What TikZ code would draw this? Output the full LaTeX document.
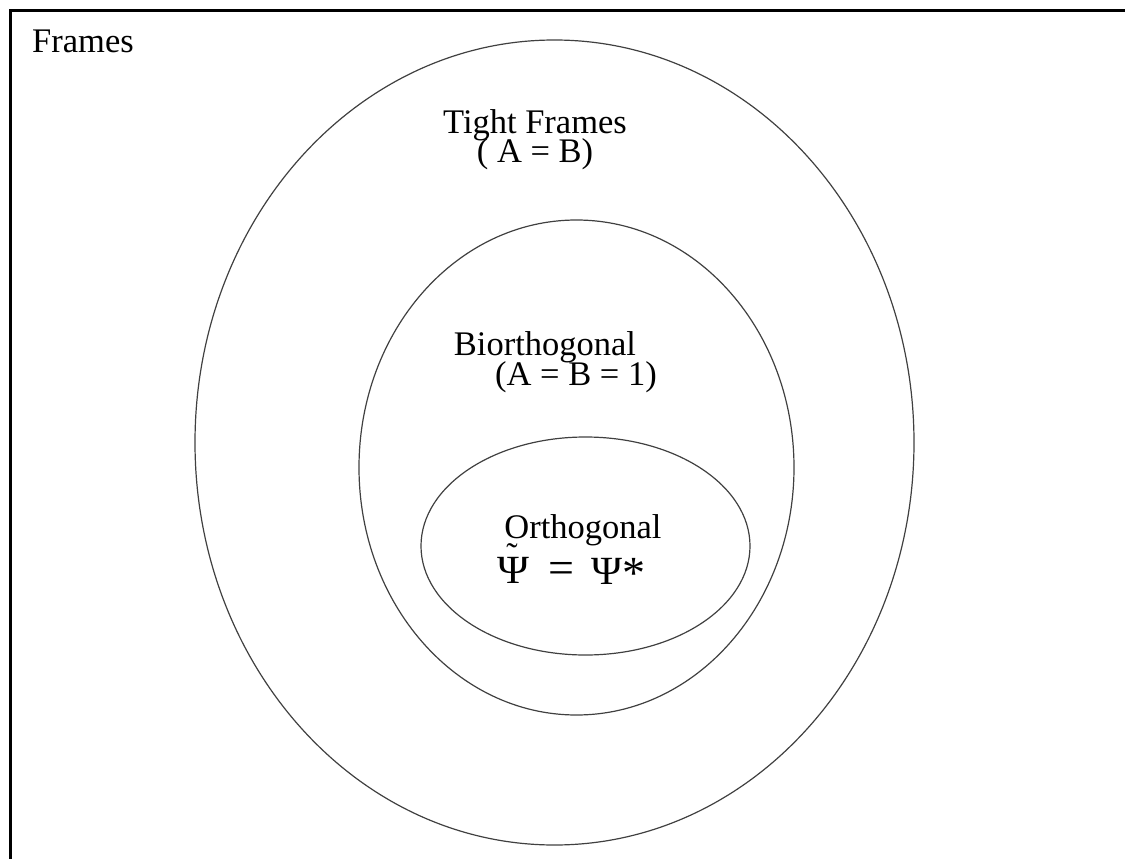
\documentclass[tikz,border=0pt]{standalone}
\usepackage{fontspec}
\setmainfont{Liberation Serif}
\begin{document}
\begin{tikzpicture}[x=1pt,y=-1pt,
  setline/.style={draw=black!75, line width=1.2pt},
  lbl/.style={inner sep=0pt, anchor=base, font=\fontsize{34.5}{34.5}\selectfont},
  sym/.style={inner sep=0pt, anchor=base west, font=\fontsize{40}{40}\selectfont}]
\useasboundingbox (0,0) rectangle (1125,859);
% frame border: top and left edges only
\draw[line width=3pt] (10.5,859) -- (10.5,10.5) -- (1125,10.5);
\node[lbl, anchor=base west] (frames) at (32,53) {Frames};
% nested sets
\draw[setline] (554.5,442.5) ellipse [x radius=359.5, y radius=402.5];
\draw[setline] (576.5,467.5) ellipse [x radius=217.5, y radius=247.5];
\draw[setline] (585.5,546) ellipse [x radius=164.5, y radius=109];
% labels
\node[lbl] (tight) at (535,133) {Tight Frames};
\node[lbl] (tightc) at (535,162) {( A = B)};
\node[lbl] (bio) at (545,355) {Biorthogonal};
\node[lbl] (bioc) at (576,385) {(A = B = 1)};
\node[lbl] (orth) at (583,538) {Orthogonal};
\node[sym] (psit) at (497,583) {\scalebox{1.08}[1]{Ψ}};
\node[lbl, font=\fontsize{34}{34}\selectfont] (tilde) at (512,566.5) {˜};
\node[sym, font=\fontsize{46}{46}\selectfont] (eq) at (548,583) {=};
\node[sym] (psis) at (591,584) {\scalebox{1.05}[1]{Ψ}\raisebox{-0.1em}{\scalebox{1.15}{*}}};
\end{tikzpicture}
\end{document}
